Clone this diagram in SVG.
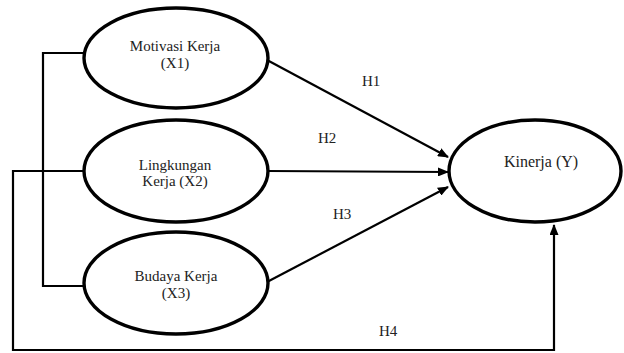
<svg xmlns="http://www.w3.org/2000/svg" width="624" height="353" viewBox="0 0 624 353">
<defs>
<marker id="arr" markerWidth="11" markerHeight="9" refX="10" refY="4.5" orient="auto" markerUnits="userSpaceOnUse">
<path d="M0,0 L11,4.5 L0,9 Z" fill="#000"/>
</marker>
<style>
.node ellipse{fill:#fff;stroke:#000;stroke-width:3.4}
.node text{font-family:"Liberation Serif","Times New Roman",serif;font-size:15px;text-anchor:middle;fill:#222}
.lbl{font-family:"Liberation Serif","Times New Roman",serif;font-size:15px;fill:#222}
.con{fill:none;stroke:#000;stroke-width:2.2}
</style>
</defs>
<rect width="624" height="353" fill="#fff"/>
<g id="connectors">
<polyline class="con" points="85,53 43,53 43,286 85,286"/>
<polyline class="con" points="85,171 13,171 13,350 554,350 554,225" marker-end="url(#arr)"/>
<line class="con" x1="267" y1="60" x2="448" y2="157" marker-end="url(#arr)"/>
<line class="con" x1="268" y1="171" x2="448" y2="172" marker-end="url(#arr)"/>
<line class="con" x1="267" y1="282" x2="448" y2="187" marker-end="url(#arr)"/>
<text class="lbl" x="362" y="86">H1</text>
<text class="lbl" x="318" y="143">H2</text>
<text class="lbl" x="333" y="219">H3</text>
<text class="lbl" x="379" y="336">H4</text>
</g>
<g id="x1" class="node">
<ellipse cx="176" cy="58" rx="92" ry="50"/>
<text x="175" y="51">Motivasi Kerja</text>
<text x="175" y="68">(X1)</text>
</g>
<g id="x2" class="node">
<ellipse cx="176" cy="171" rx="92" ry="51"/>
<text x="175" y="170">Lingkungan</text>
<text x="175" y="186">Kerja (X2)</text>
</g>
<g id="x3" class="node">
<ellipse cx="176" cy="283" rx="92" ry="51"/>
<text x="176" y="281">Budaya Kerja</text>
<text x="176" y="298">(X3)</text>
</g>
<g id="y" class="node">
<ellipse cx="535" cy="171" rx="86" ry="51"/>
<text x="541" y="167" style="font-size:16px">Kinerja (Y)</text>
</g>
</svg>
